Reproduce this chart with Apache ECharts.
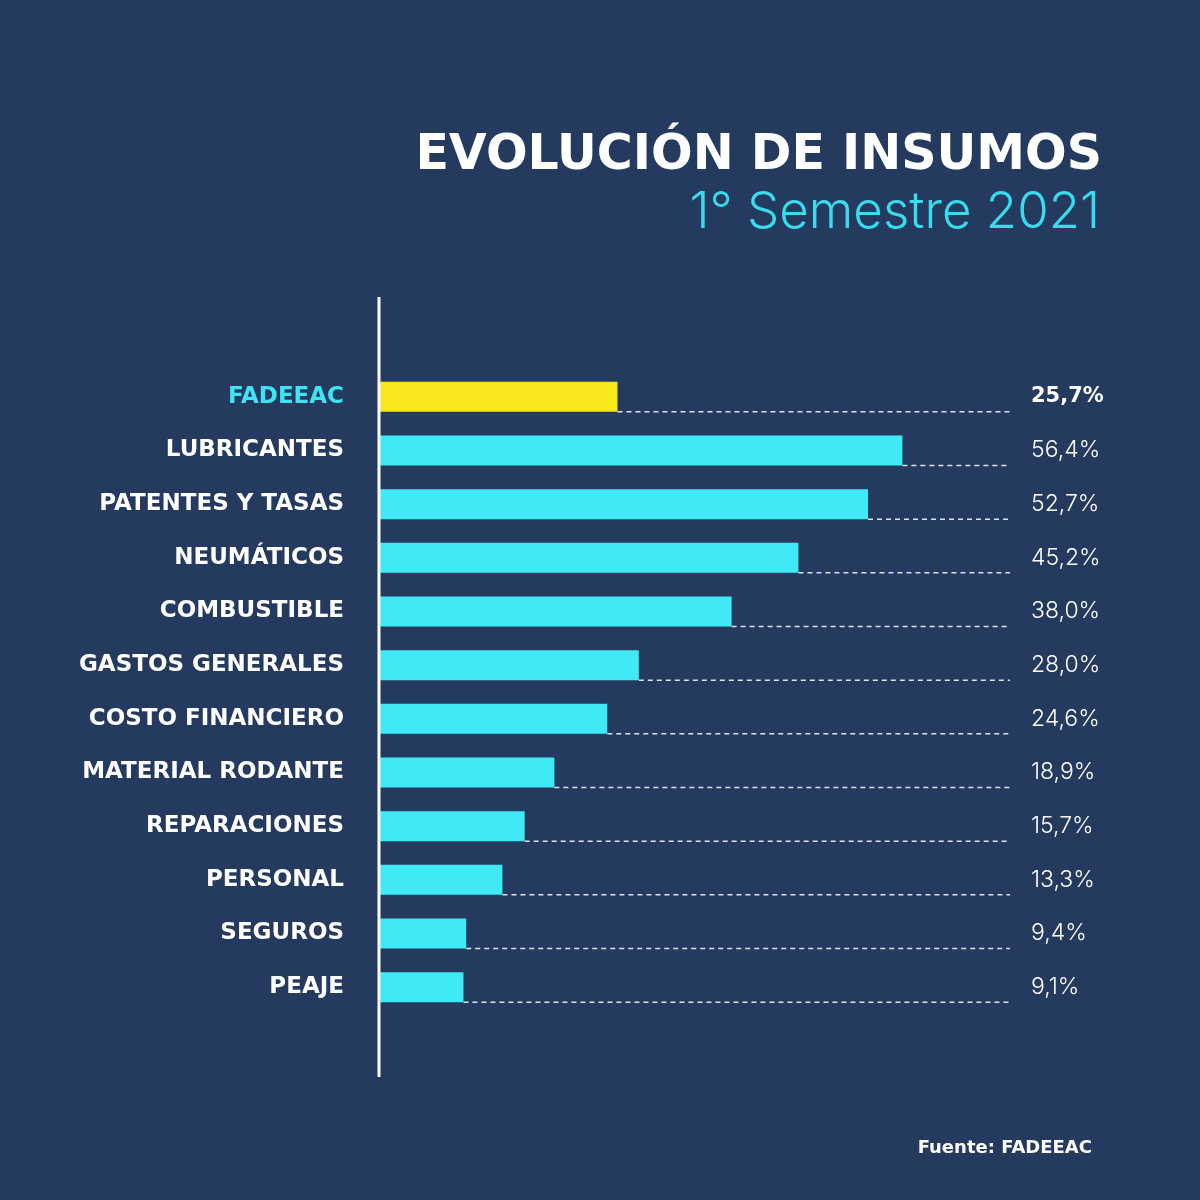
<!DOCTYPE html>
<html>
<head>
<meta charset="utf-8">
<script src="https://cdn.jsdelivr.net/npm/echarts@6/dist/echarts.min.js"></script>
<style>
  html, body { margin: 0; padding: 0; background: #243a5f; }
  #chart { width: 1200px; height: 1200px; }
</style>
</head>
<body>
<div id="chart"></div>
<script>
// datos
var categorias = ['FADEEAC', 'LUBRICANTES', 'PATENTES Y TASAS', 'NEUMÁTICOS', 'COMBUSTIBLE',
  'GASTOS GENERALES', 'COSTO FINANCIERO', 'MATERIAL RODANTE', 'REPARACIONES', 'PERSONAL',
  'SEGUROS', 'PEAJE'];
var valores = [25.7, 56.4, 52.7, 45.2, 38.0, 28.0, 24.6, 18.9, 15.7, 13.3, 9.4, 9.1];
var etiquetas = valores.map(function (v) { return v.toFixed(1).replace('.', ',') + '%'; });
var xMax = 68;

var myChart = echarts.init(document.getElementById('chart'));

var option = {
  backgroundColor: '#243a5f',
  animation: false,
  title: [{
    text: 'EVOLUCIÓN DE INSUMOS',
    right: 93, top: 127,
    textStyle: { color: '#ffffff', fontFamily: 'DejaVu Sans', fontWeight: 'bold', fontSize: 49 }
  }, {
    text: '1° Semestre 2021',
    right: 95, top: 182,
    textStyle: { color: '#38dcec', fontFamily: 'Inter', fontWeight: 300, fontSize: 51 }
  }, {
    text: 'Fuente: FADEEAC',
    right: 103, top: 1134,
    textStyle: { color: '#ffffff', fontFamily: 'DejaVu Sans', fontWeight: 'bold', fontSize: 18 }
  }],
  grid: { left: 379, right: 190, top: 370, bottom: 186 },
  xAxis: {
    type: 'value', min: 0, max: xMax, show: false
  },
  yAxis: [{
    type: 'category', data: categorias, inverse: true,
    axisLine: { show: false }, axisTick: { show: false },
    axisLabel: {
      margin: 35,
      formatter: function (v) { return v === 'FADEEAC' ? '{hl|' + v + '}' : '{n|' + v + '}'; },
      rich: {
        hl: { color: '#3ee4f2', fontFamily: 'DejaVu Sans', fontWeight: 'bold', fontSize: 23 },
        n: { color: '#ffffff', fontFamily: 'DejaVu Sans', fontWeight: 'bold', fontSize: 23 }
      }
    }
  }, {
    type: 'category', data: etiquetas, inverse: true, position: 'right',
    axisLine: { show: false }, axisTick: { show: false },
    axisLabel: {
      margin: 21, align: 'left',
      formatter: function (v, i) { return i === 0 ? '{b|' + v + '}' : '{n|' + v + '}'; },
      rich: {
        b: { color: '#ffffff', fontFamily: 'DejaVu Sans', fontWeight: 'bold', fontSize: 21 },
        n: { color: '#ffffff', fontFamily: 'Inter', fontWeight: 300, fontSize: 23 }
      }
    }
  }],
  graphic: [{
    type: 'line', z: 10,
    shape: { x1: 379, y1: 297, x2: 379, y2: 1077 },
    style: { stroke: '#ffffff', lineWidth: 3 }
  }],
  series: [{
    type: 'bar',
    barWidth: 30,
    data: valores.map(function (v, i) {
      return { value: v, itemStyle: { color: i === 0 ? '#f8e71c' : '#3fe9f6' } };
    })
  }, {
    type: 'custom',
    data: valores.map(function (v, i) { return [v, i]; }),
    renderItem: function (params, api) {
      var a = api.coord([api.value(0), api.value(1)]);
      var b = api.coord([xMax, api.value(1)]);
      return {
        type: 'line',
        shape: { x1: a[0], y1: a[1] + 15, x2: b[0], y2: b[1] + 15 },
        style: { stroke: '#dce4f0', lineWidth: 1.5, lineDash: [5, 4] }
      };
    }
  }]
};

myChart.setOption(option);
</script>
</body>
</html>
